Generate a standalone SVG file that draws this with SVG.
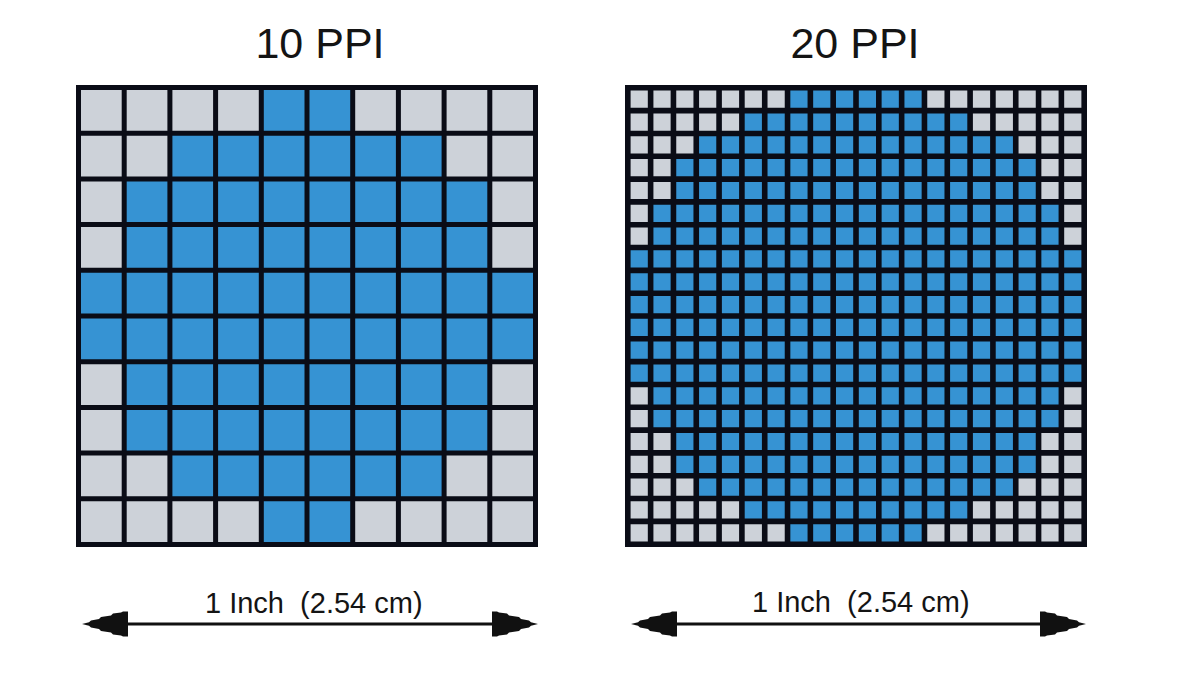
<svg xmlns="http://www.w3.org/2000/svg" width="1200" height="690" viewBox="0 0 1200 690">
<style>
.t{font-family:"Liberation Sans",Arial,sans-serif;fill:#141414}
.title{font-size:43px;text-anchor:middle}
.lab{font-size:29px;white-space:pre}
.blue{fill:#3693D3}
.gray{fill:#CDD2D9}
.lines{fill:none;stroke:#0A0C16;stroke-linecap:square}
.arrow{stroke:#111;stroke-width:3;fill:none}
</style>
<defs>
<marker id="ah" viewBox="-47 -14 50 28" refX="-8" refY="0" markerWidth="50" markerHeight="28" markerUnits="userSpaceOnUse" orient="auto-start-reverse">
<path d="M1,0 L-6,-1.8 L-8,-3.5 L-16,-5 L-18,-7 L-28,-8.5 L-30,-10.5 L-38,-11.5 L-40,-12.5 L-45,-12.5 L-45,12.5 L-40,12.5 L-38,11.5 L-30,10.5 L-28,8.5 L-18,7 L-16,5 L-8,3.5 L-6,1.8 Z" fill="#111"/>
</marker>
</defs>
<rect width="1200" height="690" fill="#FFFFFF"/>

<g id="grid-10ppi" transform="translate(78.5,87.5) scale(45.7)">
<rect class="blue" x="0" y="0" width="10" height="10"/>
<g class="gray">
<rect x="0" y="0" width="4" height="1"/><rect x="6" y="0" width="4" height="1"/>
<rect x="0" y="1" width="2" height="1"/><rect x="8" y="1" width="2" height="1"/>
<rect x="0" y="2" width="1" height="2"/><rect x="9" y="2" width="1" height="2"/>
<rect x="0" y="6" width="1" height="2"/><rect x="9" y="6" width="1" height="2"/>
<rect x="0" y="8" width="2" height="1"/><rect x="8" y="8" width="2" height="1"/>
<rect x="0" y="9" width="4" height="1"/><rect x="6" y="9" width="4" height="1"/>
</g>
<path class="lines" stroke-width="0.1094" d="M0 0V10M1 0V10M2 0V10M3 0V10M4 0V10M5 0V10M6 0V10M7 0V10M8 0V10M9 0V10M10 0V10M0 0H10M0 1H10M0 2H10M0 3H10M0 4H10M0 5H10M0 6H10M0 7H10M0 8H10M0 9H10M0 10H10"/>
</g>

<g id="grid-20ppi" transform="translate(627.8,87.8) scale(22.82)">
<rect class="blue" x="0" y="0" width="20" height="20"/>
<g class="gray">
<rect x="0" y="0" width="7" height="1"/><rect x="13" y="0" width="7" height="1"/>
<rect x="0" y="1" width="5" height="1"/><rect x="15" y="1" width="5" height="1"/>
<rect x="0" y="2" width="3" height="1"/><rect x="17" y="2" width="3" height="1"/>
<rect x="0" y="3" width="2" height="2"/><rect x="18" y="3" width="2" height="2"/>
<rect x="0" y="5" width="1" height="2"/><rect x="19" y="5" width="1" height="2"/>
<rect x="0" y="13" width="1" height="2"/><rect x="19" y="13" width="1" height="2"/>
<rect x="0" y="15" width="2" height="2"/><rect x="18" y="15" width="2" height="2"/>
<rect x="0" y="17" width="3" height="1"/><rect x="17" y="17" width="3" height="1"/>
<rect x="0" y="18" width="5" height="1"/><rect x="15" y="18" width="5" height="1"/>
<rect x="0" y="19" width="7" height="1"/><rect x="13" y="19" width="7" height="1"/>
</g>
<path class="lines" stroke-width="0.2454" d="M0 0V20M1 0V20M2 0V20M3 0V20M4 0V20M5 0V20M6 0V20M7 0V20M8 0V20M9 0V20M10 0V20M11 0V20M12 0V20M13 0V20M14 0V20M15 0V20M16 0V20M17 0V20M18 0V20M19 0V20M20 0V20M0 0H20M0 1H20M0 2H20M0 3H20M0 4H20M0 5H20M0 6H20M0 7H20M0 8H20M0 9H20M0 10H20M0 11H20M0 12H20M0 13H20M0 14H20M0 15H20M0 16H20M0 17H20M0 18H20M0 19H20M0 20H20"/>
</g>

<g id="titles">
<text class="t title" x="320" y="58">10 PPI</text>
<text class="t title" x="855" y="58">20 PPI</text>
</g>

<g id="connectors">
<path class="arrow" d="M91 624H529" marker-start="url(#ah)" marker-end="url(#ah)"/>
<path class="arrow" d="M640 624H1077" marker-start="url(#ah)" marker-end="url(#ah)"/>
</g>

<g id="labels">
<text class="t lab" x="205" y="613">1 Inch  (2.54 cm)</text>
<text class="t lab" x="752" y="612">1 Inch  (2.54 cm)</text>
</g>
</svg>
